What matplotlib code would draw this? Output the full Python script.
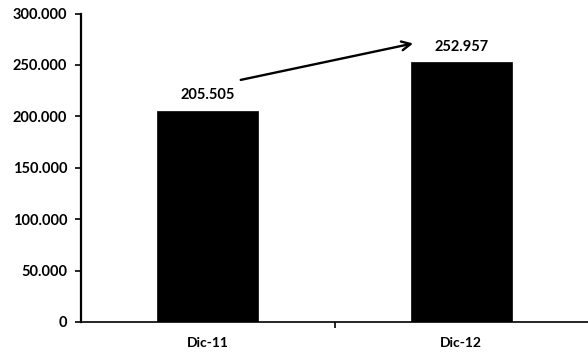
import matplotlib
matplotlib.use("Agg")
import matplotlib.pyplot as plt
from matplotlib.ticker import FuncFormatter, FixedLocator

categories = ["Dic-11", "Dic-12"]
values = [205.505, 252.957]
value_labels = ["205.505", "252.957"]
y_ticks = [0, 50, 100, 150, 200, 250, 300]

plt.rcParams["font.family"] = ["Lato", "DejaVu Sans"]
plt.rcParams["font.weight"] = "bold"

fig = plt.figure(figsize=(5.88, 3.54), dpi=100)
ax = fig.add_axes([0.1378, 0.0904, 0.8622, 0.8712])

x = list(range(len(categories)))
ax.bar(x, values, width=0.4, color="black", edgecolor="black", linewidth=0.5)

ax.set_xlim(-0.5, len(categories) - 0.5)
ax.set_ylim(0, 300)

# y axis: thousands shown with a dot and three decimals
ax.set_yticks(y_ticks)
ax.yaxis.set_major_formatter(FuncFormatter(lambda v, p: "0" if v == 0 else f"{int(v)}.000"))
ax.tick_params(axis="y", direction="out", length=4, width=1.2, pad=6, labelsize=10.5)

# category boundaries carry the tick marks, labels sit at bar centres
ax.xaxis.set_major_locator(FixedLocator([i + 0.5 for i in x[:-1]]))
ax.xaxis.set_major_formatter(FuncFormatter(lambda v, p: ""))
ax.xaxis.set_minor_locator(FixedLocator(x))
ax.set_xticklabels(categories, minor=True)
ax.tick_params(axis="x", which="major", direction="out", length=4, width=1.2)
ax.tick_params(axis="x", which="minor", length=0, pad=11, labelsize=10)

for side in ("top", "right"):
    ax.spines[side].set_visible(False)
ax.spines["left"].set_linewidth(1.6)
ax.spines["bottom"].set_linewidth(1.2)

for xi, v, lab in zip(x, values, value_labels):
    ax.annotate(lab, (xi, v), xytext=(0, 11), textcoords="offset points",
                ha="center", va="center", fontsize=10.5, fontweight="bold")

# growth arrow between the two value labels
ax.annotate("", xy=(x[1] - 0.19, values[1] + 18), xytext=(x[0] + 0.13, values[0] + 30),
            arrowprops=dict(arrowstyle="->", color="black", lw=1.7,
                            mutation_scale=16, shrinkA=0, shrinkB=0))

fig.savefig("out.png", dpi=100, facecolor="white")
